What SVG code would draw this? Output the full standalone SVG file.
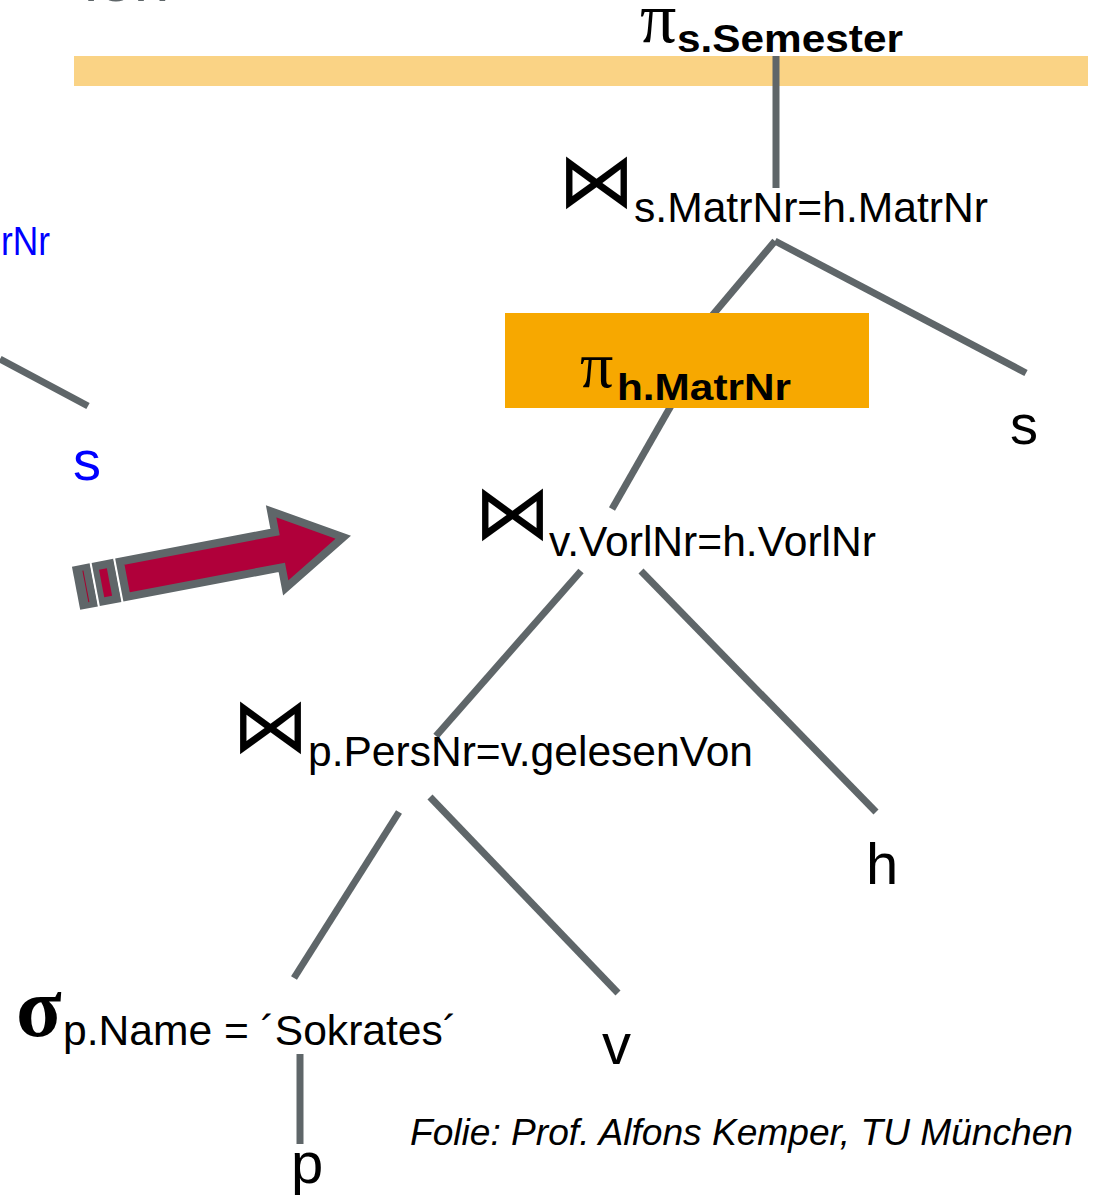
<svg xmlns="http://www.w3.org/2000/svg" width="1093" height="1197" viewBox="0 0 1093 1197">
<style>
.t{font-family:"Liberation Sans",Arial,sans-serif;fill:#000}
.b{font-weight:bold}
.sym{font-family:"DejaVu Sans",sans-serif;fill:#000}
.gr{font-family:"Liberation Serif",serif;fill:#000}
.e{stroke:#5f6669;stroke-width:7;fill:none}
</style>
<rect width="1093" height="1197" fill="#fff"/>
<text class="t" x="84" y="1" font-size="64" style="fill:#5f6669">ion</text>
<rect x="74" y="56" width="1014" height="30" fill="#fad385"/>
<g id="connectors">
<line class="e" x1="776" y1="56" x2="776" y2="188"/>
<line class="e" x1="775" y1="241" x2="700" y2="330"/>
<line class="e" x1="775" y1="241" x2="1026" y2="373"/>
<line class="e" x1="672" y1="404" x2="612" y2="509"/>
<line class="e" x1="581" y1="571" x2="436" y2="736"/>
<line class="e" x1="641" y1="571" x2="876" y2="812"/>
<line class="e" x1="399" y1="812" x2="294" y2="978"/>
<line class="e" x1="430" y1="797" x2="618" y2="993"/>
<line class="e" x1="300" y1="1054" x2="300" y2="1144"/>
<line class="e" x1="0" y1="359" x2="88" y2="406"/>
</g>
<g id="proj-semester">
<text class="gr" x="640" y="42" font-size="72">π</text>
<text class="t b" x="677" y="52" font-size="38" textLength="226" lengthAdjust="spacingAndGlyphs">s.Semester</text>
</g>
<g id="join-matrnr">
<text class="sym" x="558" y="207" font-size="77">⋈</text>
<text class="t" x="634" y="222" font-size="42" textLength="354" lengthAdjust="spacingAndGlyphs">s.MatrNr=h.MatrNr</text>
</g>
<g id="proj-hmatrnr">
<rect x="505" y="313" width="364" height="95" fill="#f7a800"/>
<text class="gr" x="580" y="387" font-size="66">π</text>
<text class="t b" x="617" y="400" font-size="37" textLength="174" lengthAdjust="spacingAndGlyphs">h.MatrNr</text>
</g>
<g id="rel-s">
<text class="t" x="1010" y="444" font-size="56">s</text>
</g>
<g id="join-vorlnr">
<text class="sym" x="474" y="539" font-size="77">⋈</text>
<text class="t" x="549" y="556" font-size="42" textLength="327" lengthAdjust="spacingAndGlyphs">v.VorlNr=h.VorlNr</text>
</g>
<g id="join-persnr">
<text class="sym" x="232" y="752" font-size="77">⋈</text>
<text class="t" x="308" y="766" font-size="42" textLength="445" lengthAdjust="spacingAndGlyphs">p.PersNr=v.gelesenVon</text>
</g>
<g id="rel-h">
<text class="t" x="866" y="884" font-size="58">h</text>
</g>
<g id="select-name">
<text class="gr b" x="16" y="1036" font-size="84">σ</text>
<text class="t" x="63" y="1045" font-size="42" textLength="394" lengthAdjust="spacingAndGlyphs">p.Name = ´Sokrates´</text>
</g>
<g id="rel-v">
<text class="t" x="602" y="1064" font-size="58">v</text>
</g>
<g id="rel-p">
<text class="t" x="291" y="1183" font-size="58">p</text>
</g>
<g id="left-partial">
<text class="t" x="1" y="255" font-size="40" textLength="49" lengthAdjust="spacingAndGlyphs" style="fill:#0000ff">rNr</text>
<text class="t" x="73" y="480" font-size="56" style="fill:#0000ff">s</text>
</g>
<g id="arrow" transform="translate(80,587.5) rotate(-10.8)">
<rect x="-4" y="-22" width="18" height="44" fill="#5f6669"/>
<line x1="6" y1="-16" x2="6" y2="16" stroke="#a8002f" stroke-width="1"/>
<line x1="15" y1="-22" x2="15" y2="22" stroke="#fff" stroke-width="1.2"/>
<rect x="16" y="-22" width="22" height="44" fill="#5f6669"/>
<rect x="22" y="-14" width="8" height="28" fill="#b0003a"/>
<line x1="39" y1="-22" x2="39" y2="22" stroke="#fff" stroke-width="1.2"/>
<path d="M44,-18 L202,-18 L202,-39 L268,0 L202,39 L202,18 L44,18 Z" fill="#b0003a" stroke="#5f6669" stroke-width="8" stroke-linejoin="miter" stroke-miterlimit="10"/>
</g>
<g id="footer">
<text class="t" x="410" y="1145" font-size="36" font-style="italic" textLength="663" lengthAdjust="spacingAndGlyphs">Folie: Prof. Alfons Kemper, TU München</text>
</g>
</svg>
